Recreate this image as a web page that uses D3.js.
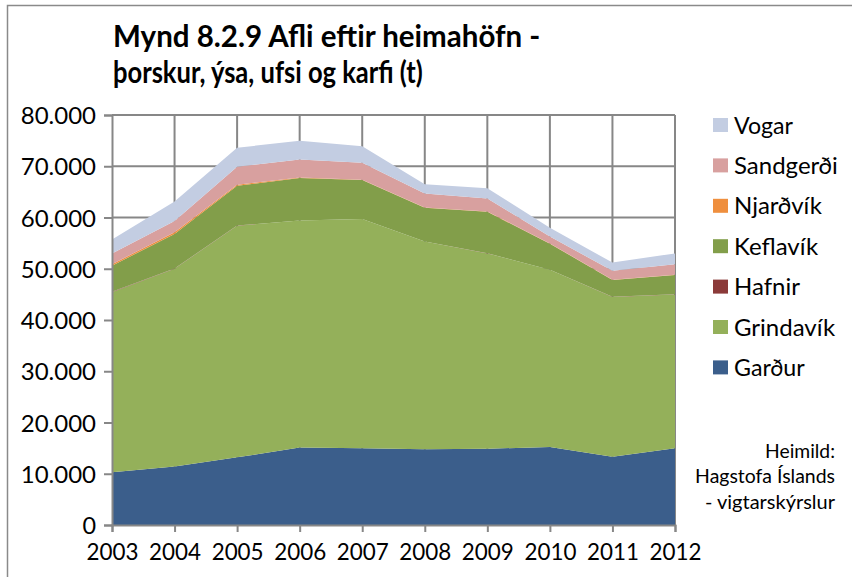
<!DOCTYPE html>
<html>
<head>
<meta charset="utf-8">
<script src="https://cdn.jsdelivr.net/npm/d3@7"></script>
<style>
  html, body { margin: 0; padding: 0; background: #fff; }
  svg { display: block; }
  text { font-family: Lato, "Open Sans", sans-serif; fill: #000; }
</style>
</head>
<body>
<svg id="chart" width="852" height="577"></svg>
<script>
// Landed catch by home port (tonnes): cod, haddock, saithe and redfish
const years = [2003, 2004, 2005, 2006, 2007, 2008, 2009, 2010, 2011, 2012];
const gardur    = [10300, 11400, 13200, 15100, 15000, 14800, 14900, 15200, 13300, 15000];
const grindavik = [35100, 38600, 45200, 44300, 44700, 40500, 38100, 34600, 31200, 30000];
const hafnir    = [100, 50, 30, 20, 20, 20, 20, 20, 20, 20];
const keflavik  = [5100, 6750, 7770, 8280, 7580, 6580, 8080, 5080, 3280, 3780];
const njardvik  = [300, 300, 200, 100, 50, 50, 50, 50, 50, 50];
const sandgerdi = [2100, 2200, 3500, 3500, 3350, 2750, 2550, 1350, 1750, 2050];
const vogar     = [2700, 3800, 3700, 3700, 3200, 1800, 2000, 1700, 1600, 2100];

// stacking order, bottom to top
const seriesNames = ["Garður", "Grindavík", "Hafnir", "Keflavík", "Njarðvík", "Sandgerði", "Vogar"];
const seriesValues = [gardur, grindavik, hafnir, keflavik, njardvik, sandgerdi, vogar];
const seriesColors = ["#3b5e8b", "#94b05a", "#8b3a39", "#829e4a", "#ef8f3e", "#d8a09f", "#c3cde2"];

const yTicks = [0, 10000, 20000, 30000, 40000, 50000, 60000, 70000, 80000];
const titleLines = ["Mynd 8.2.9 Afli eftir heimahöfn -", "þorskur, ýsa, ufsi og karfi (t)"];
const sourceLines = ["Heimild:", "Hagstofa Íslands", "- vigtarskýrslur"];

const svg = d3.select("#chart");
const margin = { left: 112, right: 675, top: 115, bottom: 525 };

const rows = years.map((yr, i) => {
  const r = { year: yr };
  seriesNames.forEach((n, k) => r[n] = seriesValues[k][i]);
  return r;
});

const x = d3.scaleLinear().domain([years[0], years[years.length - 1]]).range([margin.left, margin.right]);
const y = d3.scaleLinear().domain([0, 80000]).range([margin.bottom, margin.top]);

// narrow a text horizontally (about its anchor x) so it spans the given width
function squeeze(el, target) {
  const w = el.getComputedTextLength();
  const s = Math.min(1, target / w);
  const ax = +(el.getAttribute("x") || 0);
  el.setAttribute("transform", `translate(${ax},0) scale(${s.toFixed(4)},1) translate(${-ax},0)`);
}

// chart frame
svg.append("rect").attr("x", 7.5).attr("y", 5.5).attr("width", 900).attr("height", 700)
  .attr("fill", "#fff").attr("stroke", "#8a8a8a").attr("stroke-width", 1.5);

// gridlines
const gridColor = "#878787";
svg.append("g").selectAll("line").data(yTicks.slice(1)).join("line")
  .attr("x1", margin.left).attr("x2", margin.right)
  .attr("y1", d => y(d)).attr("y2", d => y(d))
  .attr("stroke", gridColor).attr("stroke-width", 2);
svg.append("g").selectAll("line").data(years.slice(1)).join("line")
  .attr("x1", d => x(d)).attr("x2", d => x(d))
  .attr("y1", margin.top).attr("y2", margin.bottom)
  .attr("stroke", gridColor).attr("stroke-width", 2);

// stacked areas
const stack = d3.stack().keys(seriesNames);
const layers = stack(rows);
const area = d3.area()
  .x(d => x(d.data.year))
  .y0(d => y(d[0]))
  .y1(d => y(d[1]));
svg.append("g").selectAll("path").data(layers).join("path")
  .attr("d", area)
  .attr("fill", (d, i) => seriesColors[i]);

// axes
const yAxis = svg.append("g").attr("transform", `translate(${margin.left},0)`)
  .call(d3.axisLeft(y).tickValues(yTicks).tickSize(8).tickPadding(8)
    .tickFormat(d => d3.format(",")(d).replace(/,/g, ".")));
yAxis.select(".domain").attr("stroke", gridColor).attr("stroke-width", 2);
yAxis.selectAll(".tick line").attr("stroke", gridColor).attr("stroke-width", 2);
yAxis.selectAll(".tick text").attr("font-size", 24).attr("font-family", "Lato, sans-serif")
  .attr("dy", "0.36em").attr("fill", "#000")
  .each(function () { squeeze(this, this.textContent.length * 13.6); });

const xAxis = svg.append("g").attr("transform", `translate(0,${margin.bottom})`)
  .call(d3.axisBottom(x).tickValues(years).tickSize(7).tickPadding(12).tickFormat(d3.format("d")));
xAxis.select(".domain").attr("stroke", gridColor).attr("stroke-width", 2);
xAxis.selectAll(".tick line").attr("stroke", gridColor).attr("stroke-width", 2);
xAxis.selectAll(".tick text").attr("font-size", 23).attr("font-family", "Lato, sans-serif")
  .attr("fill", "#000")
  .each(function () { squeeze(this, 52); });

// title
const titleWidths = [435, 310];
titleLines.forEach((t, i) => {
  const el = svg.append("text").attr("x", 113).attr("y", 47 + i * 36)
    .attr("font-size", 29.5).attr("font-weight", "bold").text(t);
  squeeze(el.node(), titleWidths[i]);
});

// legend, top entry is the top layer
const legend = svg.append("g");
const legendOrder = seriesNames.map((n, i) => i).reverse();
legendOrder.forEach((k, j) => {
  const cy = 125 + j * 40.4;
  legend.append("rect").attr("x", 713).attr("y", cy - 7).attr("width", 15).attr("height", 14)
    .attr("fill", seriesColors[k]);
  const el = legend.append("text").attr("x", 734).attr("y", cy).attr("dy", "0.36em")
    .attr("font-size", 24).text(seriesNames[k]);
  squeeze(el.node(), seriesNames[k].length * 11.8);
});

// source note
const src = svg.append("g");
sourceLines.forEach((t, i) => {
  const el = src.append("text").attr("x", 835).attr("y", 458 + i * 25.5)
    .attr("text-anchor", "end").attr("font-size", 20).text(t);
  squeeze(el.node(), t.length * 8.75);
});
</script>
</body>
</html>
